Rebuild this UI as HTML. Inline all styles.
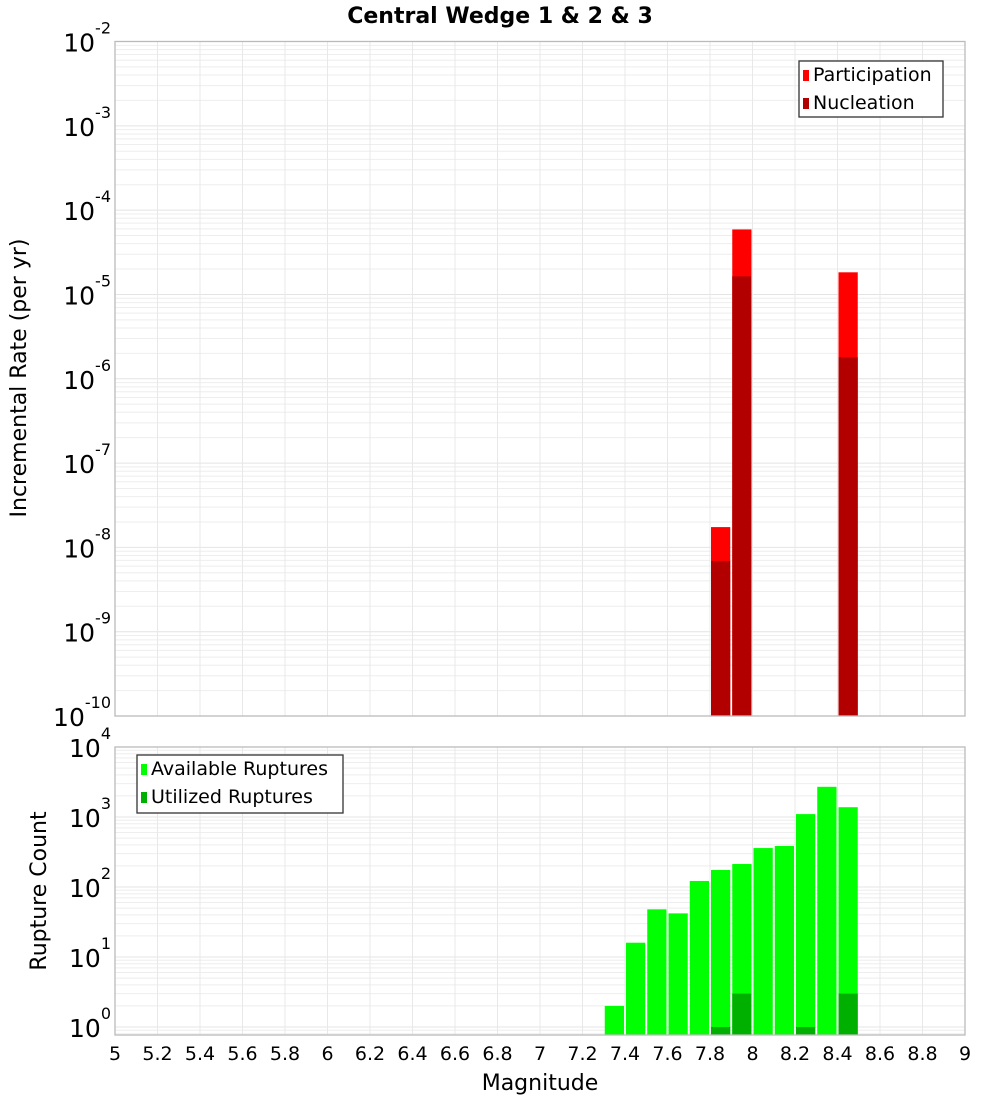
<!DOCTYPE html>
<html><head><meta charset="utf-8"><style>
body{margin:0;background:#fff;}
svg{display:block;font-family:"DejaVu Sans","Liberation Sans",sans-serif;}
</style></head><body>
<svg id="chart" width="1000" height="1100" xmlns="http://www.w3.org/2000/svg">
<text x="500" y="23" text-anchor="middle" font-size="22" font-weight="bold">Central Wedge 1 &amp; 2 &amp; 3</text>
<text transform="translate(26,378) rotate(-90)" text-anchor="middle" font-size="22">Incremental Rate (per yr)</text>
<text transform="translate(46,891) rotate(-90)" text-anchor="middle" font-size="22">Rupture Count</text>
<text x="540" y="1090" text-anchor="middle" font-size="22">Magnitude</text>
<g id="top"></g><g id="bot"></g>
</svg>
<script>
const binCenters=[7.35,7.45,7.55,7.65,7.75,7.85,7.95,8.05,8.15,8.25,8.35,8.45];
const available=[2,16,48,42,122,175,213,360,385,1100,2700,1380];
const utilized=[0,0,0,0,0,1,3,0,0,1,0,3];
const rateMags=[7.85,7.95,8.45];
const participation=[1.74e-8,5.9e-5,1.83e-5];
const nucleation=[6.9e-9,1.64e-5,1.8e-6];
const xTicks=[5,5.2,5.4,5.6,5.8,6,6.2,6.4,6.6,6.8,7,7.2,7.4,7.6,7.8,8,8.2,8.4,8.6,8.8,9];
const topExps=[-10,-9,-8,-7,-6,-5,-4,-3,-2];
const botExps=[0,1,2,3,4];
const NS="http://www.w3.org/2000/svg";
const X0=115,X1=965;
const xs=m=>X0+(m-5)/4*(X1-X0);
function el(p,t,a){const e=document.createElementNS(NS,t);for(const k in a)e.setAttribute(k,a[k]);p.appendChild(e);return e;}
function panel(g,top,bottom,ys,expMin,expMax,name){
  el(g,'rect',{x:X0,y:top,width:X1-X0,height:bottom-top,fill:'#fff'});
  for(let e=expMin-1;e<=expMax;e++)for(let k=1;k<10;k++){
    const y=ys(k*Math.pow(10,e));
    if(y<top-0.5||y>bottom+0.5)continue;
    const l=el(g,'line',{x1:X0,x2:X1,y1:y,y2:y,stroke:k==1?'#e4e4e4':'#eeeeee','stroke-width':1});
    
    
  }
  xTicks.forEach(t=>{const l=el(g,'line',{x1:xs(t),x2:xs(t),y1:top,y2:bottom,stroke:'#e8e8e8'});
    
    });
}
function frame(g,top,bottom,name){
  const r=el(g,'rect',{x:X0,y:top,width:X1-X0,height:bottom-top,fill:'none',stroke:'#bbbbbb','stroke-width':1.3});
  
  
}
function ylabels(g,exps,ys,name){
  exps.forEach(e=>{const y=ys(Math.pow(10,e));
    const t=el(g,'text',{x:111,y:y+10,'text-anchor':'end','font-size':25});
    
    
    const a=el(t,'tspan',{});a.textContent='10';
    const b=el(t,'tspan',{dy:-18,'font-size':16});b.textContent=String(e);});
}
// top
const g1=document.getElementById('top');
const T0=41.5,T1=716;
const ysT=v=>T1-(Math.log10(v)+10)/8*(T1-T0);
panel(g1,T0,T1,ysT,-10,-2,'top');
const bw=(X1-X0)/40;
rateMags.forEach((m,i)=>{
  const x=xs(m)-bw/2+1,w=bw-2;
  let r=el(g1,'rect',{x:x,y:ysT(participation[i]),width:w,height:T1-ysT(participation[i]),fill:'#ff0000'});
  
  
  r=el(g1,'rect',{x:x,y:ysT(nucleation[i]),width:w,height:T1-ysT(nucleation[i]),fill:'#b20000'});
  
  
});
frame(g1,T0,T1,'top');
ylabels(g1,topExps,ysT,'top');
// bottom
const g2=document.getElementById('bot');
const B0=747,B1=1035,D=70;
const ysB=v=>1027-Math.log10(v)*D;
panel(g2,B0,B1,ysB,0,4,'bottom');
binCenters.forEach((m,i)=>{
  const x=xs(m)-bw/2+1,w=bw-2;
  let r=el(g2,'rect',{x:x,y:ysB(available[i]),width:w,height:B1-ysB(available[i]),fill:'#00ff00'});
  
  
  if(utilized[i]>0){
    r=el(g2,'rect',{x:x,y:ysB(utilized[i]),width:w,height:B1-ysB(utilized[i]),fill:'#00b000'});
    
    
  }
});
frame(g2,B0,B1,'bottom');
ylabels(g2,botExps,ysB,'bottom');
xTicks.forEach(t=>{
  const tx=el(g2,'text',{x:xs(t),y:1060,'text-anchor':'middle','font-size':19});
  
  
  tx.textContent=String(t);
});
// legends
function legend(g,x,y,w,h,items,name){
  const lg=el(g,'g',{});
  
  
  el(lg,'rect',{x:x,y:y,width:w,height:h,fill:'#fff',stroke:'#333','stroke-width':1.3});
  items.forEach((it,i)=>{
    const cy=y+13+i*28;
    el(lg,'rect',{x:x+4,y:cy-4,width:6,height:11,fill:it[1]});
    const t=el(lg,'text',{x:x+14,y:cy+7,'font-size':19});
    
    
    t.textContent=it[0];
  });
}
legend(g1,799,61,144,56,[['Participation','#ff0000'],['Nucleation','#b20000']],'top-legend');
legend(g2,137,755,206,58,[['Available Ruptures','#00ff00'],['Utilized Ruptures','#00b000']],'bottom-legend');
</script>
</body></html>
